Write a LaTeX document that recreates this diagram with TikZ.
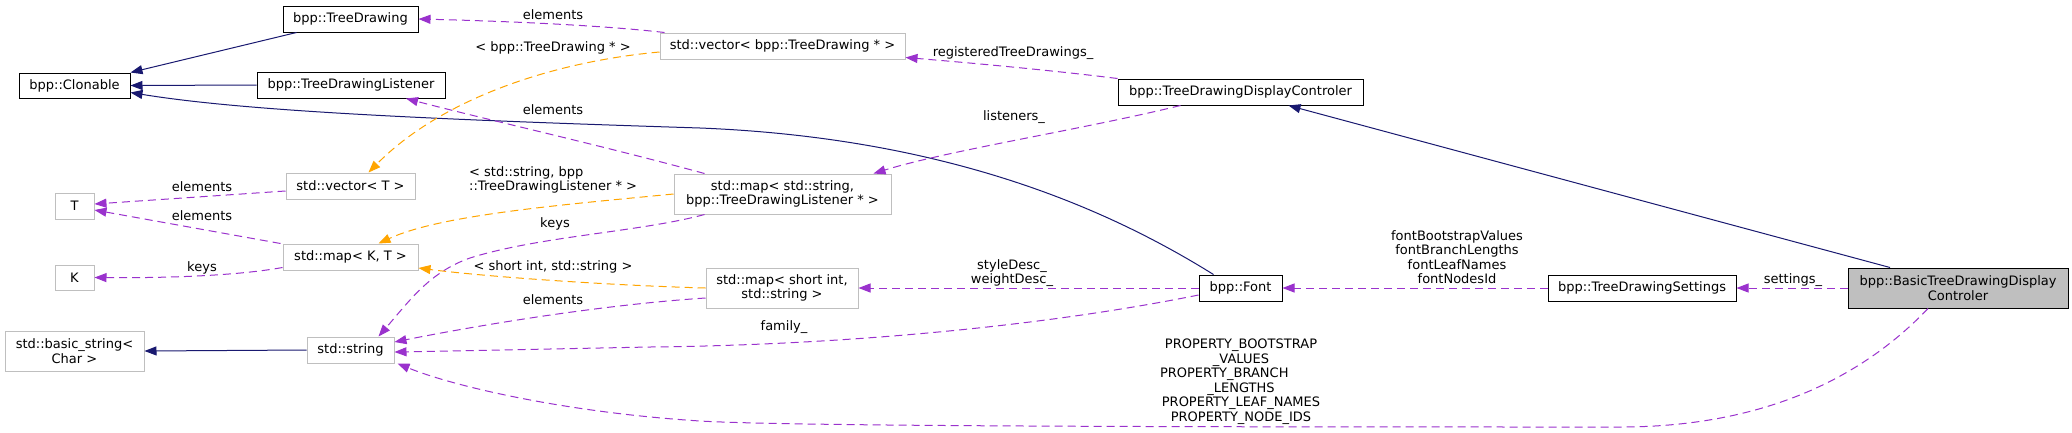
\documentclass[tikz,border=0pt]{standalone}
\usepackage{fontspec}
\setmainfont{DejaVu Sans}
\usetikzlibrary{arrows.meta}
\definecolor{navy}{HTML}{191970}
\definecolor{orchid}{HTML}{9A32CD}
\definecolor{orng}{HTML}{FFA500}
\definecolor{lgray}{HTML}{BFBFBF}
\begin{document}
\begin{tikzpicture}[x=1pt,y=-1pt,
  box/.style={draw=black, line width=1pt, fill=white, inner sep=0pt, align=center, font=\fontsize{13}{14.5}\selectfont},
  ubox/.style={box, draw=lgray},
  lbl/.style={inner sep=0pt, align=center, font=\fontsize{13}{14.5}\selectfont},
  tip/.style={-{Triangle[length=12pt,width=9pt]}},
  inh/.style={draw=navy, line width=1pt, tip},
  use/.style={draw=orchid, line width=1pt, dash pattern=on 8pt off 5pt, tip},
  tpl/.style={draw=orng, line width=1pt, dash pattern=on 8pt off 5pt, tip}
]
\fill[white] (0,0) rectangle (2072,432);
\useasboundingbox (0,0) rectangle (2072,432);

% nodes
\node[box, minimum width=111pt, minimum height=25pt] (clon) at (74.5,85.5) {bpp::Clonable};
\node[box, minimum width=135pt, minimum height=26pt] (td) at (350.5,19) {bpp::TreeDrawing};
\node[box, minimum width=188pt, minimum height=26pt] (tdl) at (351,85) {bpp::TreeDrawingListener};
\node[ubox, minimum width=245pt, minimum height=26pt] (vtd) at (782.5,46) {std::vector< bpp::TreeDrawing * >};
\node[box, minimum width=245pt, minimum height=26pt] (tddc) at (1240.5,92) {bpp::TreeDrawingDisplayControler};
\node[ubox, minimum width=129pt, minimum height=26pt] (vt) at (350.5,186) {std::vector< T >};
\node[ubox, minimum width=39pt, minimum height=26pt] (T) at (74.5,206) {T};
\node[ubox, minimum width=217pt, minimum height=40pt] (msl) at (782.5,194) {std::map< std::string,\\ bpp::TreeDrawingListener * >};
\node[ubox, minimum width=135pt, minimum height=26pt] (mkt) at (350.5,257) {std::map< K, T >};
\node[ubox, minimum width=39pt, minimum height=25pt] (K) at (74.5,277.5) {K};
\node[ubox, minimum width=152pt, minimum height=40pt] (msi) at (782,288) {std::map< short int,\\ std::string >};
\node[box, minimum width=83pt, minimum height=26pt] (font) at (1240.5,288) {bpp::Font};
\node[box, minimum width=188pt, minimum height=26pt] (tds) at (1642,288) {bpp::TreeDrawingSettings};
\node[box, fill=lgray, minimum width=220pt, minimum height=40pt] (btddc) at (1958,288) {bpp::BasicTreeDrawingDisplay\\Controler};
\node[ubox, minimum width=139pt, minimum height=40pt] (bs) at (74.5,351) {std::basic\_string<\\ Char >};
\node[ubox, minimum width=87pt, minimum height=26pt] (str) at (350.5,350) {std::string};

% inheritance
\draw[inh] ([xshift=14pt]td.south west) -- (clon.north east);
\draw[inh] (tdl.west) -- (clon.east);
\draw[inh] ([xshift=-27pt]font.north) .. controls (1110,210) and (950,138) .. (700,128)
  .. controls (450,120) and (250,112) .. ([yshift=-7pt]clon.east);
\draw[inh] ([xshift=-68pt]btddc.north) -- ([xshift=48pt]tddc.south);
\draw[inh] (str.west) -- (bs.east);

% usage
\draw[use] ([xshift=5pt]vtd.north west) .. controls (600,25) and (500,21) .. (td.east);
\draw[use] (tddc.north west) .. controls (1050,70) and (960,62) .. ([yshift=2pt]vtd.south east);
\draw[use] ([xshift=-60pt]tddc.south) .. controls (1080,130) and (950,150) .. ([xshift=91pt]msl.north);
\draw[use] ([xshift=-78pt]msl.north) .. controls (600,145) and (480,118) .. ([xshift=55pt]tdl.south);
\draw[use] ([xshift=-78pt]msl.south) .. controls (640,232) and (540,236) .. (470,258)
  .. controls (430,272) and (410,300) .. ([xshift=28pt]str.north);
\draw[use] ([yshift=-10pt]msi.west) .. controls (600,305) and (480,325) .. ([yshift=8pt]str.east);
\draw[use] ([xshift=-2pt]mkt.north west) -- ([yshift=-4pt]T.east);
\draw[use] ([yshift=3pt]mkt.south west) .. controls (230,277) and (150,278) .. (K.east);
\draw[use] ([yshift=-5pt]vt.west) -- ([yshift=2pt]T.east);
\draw[use] (font.west) -- (msi.east);
\draw[use] ([yshift=-7pt]font.west) .. controls (1050,325) and (850,345) .. (650,347)
  .. controls (550,349) and (450,351) .. ([yshift=-2pt]str.east);
\draw[use] (tds.west) -- (font.east);
\draw[use] (btddc.west) -- (tds.east);
\draw[use] ([xshift=-30pt]btddc.south) .. controls (1860,380) and (1760,427) .. (1620,427)
  .. controls (1300,427) and (800,427) .. (700,421)
  .. controls (560,412) and (450,385) .. ([xshift=3pt]str.south east);

% template
\draw[tpl] ([yshift=-6pt]vtd.west) .. controls (550,62) and (440,100) .. ([xshift=18pt]vt.north);
\draw[tpl] (msl.west) .. controls (560,205) and (440,215) .. ([xshift=28pt]mkt.north);
\draw[tpl] (msi.west) .. controls (600,285) and (480,276) .. ([yshift=-11pt]mkt.east);

% labels
\node[lbl] (l1) at (553,15) {elements};
\node[lbl] (l2) at (553,48) {< bpp::TreeDrawing * >};
\node[lbl] (l3) at (553,110) {elements};
\node[lbl] (l4) at (1013,53) {registeredTreeDrawings\_};
\node[lbl] (l5) at (1014,117) {listeners\_};
\node[lbl] (l6) at (202,187) {elements};
\node[lbl] (l7) at (202,216) {elements};
\node[lbl] (l8) at (202,268) {keys};
\node[lbl, align=left, anchor=west] (l9) at (469,180) {< std::string, bpp\\::TreeDrawingListener * >};
\node[lbl] (l10) at (555,224) {keys};
\node[lbl] (l11) at (553,267) {< short int, std::string >};
\node[lbl] (l12) at (553,300) {elements};
\node[lbl] (l13) at (1012,273) {styleDesc\_\\weightDesc\_};
\node[lbl] (l14) at (784,327) {family\_};
\node[lbl] (l15) at (1457,257) {fontBootstrapValues\\fontBranchLengths\\fontLeafNames\\fontNodesId};
\node[lbl] (l16) at (1793,280) {settings\_};
\node[lbl] (l17) at (1241,381.5) {PROPERTY\_BOOTSTRAP\\\_VALUES\\\makebox[162pt][l]{PROPERTY\_BRANCH}\\\_LENGTHS\\PROPERTY\_LEAF\_NAMES\\PROPERTY\_NODE\_IDS};
\end{tikzpicture}
\end{document}
